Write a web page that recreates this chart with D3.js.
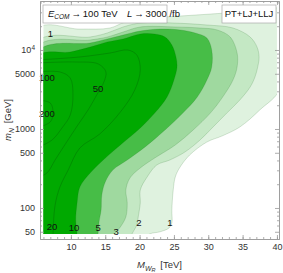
<!DOCTYPE html>
<html>
<head>
<meta charset="utf-8">
<script src="https://cdn.jsdelivr.net/npm/d3@7"></script>
<style>
    body { margin: 0; background: #fff; }
    text { font-family: "Liberation Sans", Arial, sans-serif; }
</style>
</head>
<body>
<div id="chart"></div>
<script>
    // filled contour regions, [M_WR in TeV, m_N in GeV]
    const region1 = [[5, 40], [5, 18400], [11.3, 18400], [15.7, 19000], [17.9, 22600], [21.5, 25400], [25.9, 26900],
        [30.3, 28500], [34.6, 30200], [40.5, 32100], [40.5, 3300], [37.5, 1740], [34.6, 1060], [32.0, 815],
        [29.8, 684], [27.3, 469], [25.9, 330], [25.2, 247], [24.9, 169], [24.7, 94], [24.7, 65], [24.3, 56],
        [23.0, 50], [21.5, 47], [20.5, 40]];
    const region2 = [[5, 40], [5, 12630], [12.8, 14600], [15.3, 16420], [17.6, 19560], [20.1, 21950], [24.9, 21950],
        [29.8, 20720], [33.6, 18990], [36.1, 14600], [37.1, 10900], [37.4, 8160], [37.2, 6090], [36.8, 4550],
        [36.1, 3400], [34.6, 2330], [32.7, 1590], [30.7, 1060], [28.8, 725], [26.6, 511], [24.4, 405],
        [22.5, 350], [21.1, 247], [20.1, 169], [20.1, 116], [19.8, 77], [19.6, 61], [18.9, 47], [18.6, 40]];
    const region3 = [[5, 40], [5, 10900], [12.8, 13380], [15.3, 14600], [17.6, 16890], [20.1, 19560], [25.2, 19560],
        [28.8, 18990], [31.3, 17930], [33.2, 14600], [34.2, 9160], [34.2, 6090], [33.6, 4170], [32.1, 2540],
        [30.3, 1590], [27.8, 971], [25.2, 627], [22.2, 429], [20.1, 321], [18.6, 240], [18.0, 169],
        [18.2, 116], [18.0, 77], [17.2, 57.5], [16.4, 47], [16.1, 40]];
    const region5 = [[5, 40], [5, 9430], [12.8, 12260], [15.3, 13790], [17.6, 15470], [20.1, 17400], [23.0, 18430],
        [25.9, 17930], [28.1, 16420], [29.8, 14170], [30.5, 10000], [30.5, 6090], [29.8, 4170], [28.4, 2540],
        [26.3, 1590], [23.7, 971], [20.8, 592], [18.2, 405], [16.1, 302], [15.0, 213], [14.5, 146],
        [14.4, 94], [14.1, 67], [13.95, 47], [13.8, 40]];
    const region10 = [[5, 40], [5, 8160], [9.9, 9430], [12.8, 10900], [15.3, 12630], [17.6, 13790], [20.1, 15940],
        [22.2, 15940], [23.7, 14600], [24.7, 11580], [25.3, 8160], [25.45, 6090], [25.0, 4170], [24.0, 2540],
        [22.2, 1590], [20.1, 1030], [17.2, 627], [14.7, 405], [12.8, 277], [11.3, 184], [10.9, 116],
        [10.7, 70], [10.9, 47], [10.9, 40]];

    // contour lines inside the darkest region
    const line20 = [[5, 7470], [11.3, 8160], [15.7, 9160], [18.3, 9990], [19.6, 8640], [20.1, 5580], [19.3, 3120],
        [17.2, 1640], [14.2, 864], [11.3, 575], [9.6, 302], [8.4, 184], [7.7, 109], [7.4, 47], [7.4, 40]];
    const line50 = [[5, 6850], [10.6, 7050], [14.0, 6650], [15.1, 5270], [14.8, 3930], [14.0, 2940], [12.5, 1740],
        [11.0, 1120], [9.1, 627], [7.7, 405], [6.5, 277], [5, 240]];
    const line100 = [[5, 5270], [8.4, 5270], [9.9, 4420], [10.3, 2690], [9.9, 1500], [8.7, 1030], [7.25, 725], [5, 575]];
    const line200 = [[5, 2330], [7.0, 2130], [7.4, 1590], [7.0, 1230], [5, 1030]];

    const regions = [region1, region2, region3, region5, region10];
    const fills = ["#dff2df", "#c4e8c4", "#9fd99f", "#47bd47", "#00a900"];
    const innerLines = [line20, line50, line100, line200];

    const contourLabels = ["1", "100", "200", "50", "20", "10", "5", "3", "2", "1"];
    const labelAt = [[7.0, 16400], [6.5, 4550], [6.5, 1590], [13.95, 3210], [7.25, 59], [10.45, 56], [13.95, 56],
        [16.6, 51], [19.9, 65], [24.4, 66]];

    const xTicks = [10, 15, 20, 25, 30, 35, 40];
    const yTicks = [50, 100, 500, 1000, 5000, 10000];

    const width = 283, height = 273;

    const x = d3.scaleLinear().domain([5.5, 40.3]).range([40, 279]);
    const y = d3.scaleLog().domain([40.5, 41700]).range([239, 1]);

    const svg = d3.select("#chart")
        .append("svg")
        .attr("width", width)
        .attr("height", height);

    svg.append("clipPath")
        .attr("id", "clip")
        .append("rect")
        .attr("x", x(6))
        .attr("y", y(40000))
        .attr("width", x(40) - x(6))
        .attr("height", y(47) - y(40000));

    const lineGen = d3.line()
        .x(d => x(d[0]))
        .y(d => y(d[1]));

    const plot = svg.append("g").attr("clip-path", "url(#clip)");

    plot.selectAll("path.region")
        .data(regions)
        .enter()
        .append("path")
        .attr("class", "region")
        .attr("d", d => lineGen.curve(d3.curveCatmullRomClosed.alpha(0.5))(d))
        .attr("fill", (d, i) => fills[i])
        .attr("stroke", "rgba(0,90,0,0.3)")
        .attr("stroke-width", 0.5);

    plot.selectAll("path.inner")
        .data(innerLines)
        .enter()
        .append("path")
        .attr("class", "inner")
        .attr("d", d => lineGen.curve(d3.curveCatmullRom.alpha(0.5))(d))
        .attr("fill", "none")
        .attr("stroke", "rgba(0,50,0,0.35)")
        .attr("stroke-width", 0.6);

    svg.selectAll("text.clabel")
        .data(contourLabels)
        .enter()
        .append("text")
        .attr("class", "clabel")
        .attr("x", (d, i) => x(labelAt[i][0]))
        .attr("y", (d, i) => y(labelAt[i][1]))
        .attr("text-anchor", "middle")
        .attr("dominant-baseline", "central")
        .attr("font-size", 9.5)
        .attr("fill", "#111")
        .text(d => d);

    // frame with inward ticks on every side
    const minorX = d3.range(6, 41);
    const minorY = y.ticks().filter(v => yTicks.indexOf(v) < 0);

    function styleAxis(g) {
        g.selectAll("path.domain").attr("stroke", "#999").attr("stroke-width", 0.8);
        g.selectAll(".tick line").attr("stroke", "#999").attr("stroke-width", 0.8);
        g.selectAll("text").attr("fill", "#333").attr("font-size", 9)
            .style("font-family", "'Liberation Sans', Arial, sans-serif");
    }

    const axBottom = svg.append("g").attr("transform", `translate(0,${y.range()[0]})`);
    axBottom.append("g").call(d3.axisBottom(x).tickValues(xTicks).tickSize(-4).tickSizeOuter(0).tickPadding(5)).call(styleAxis);
    axBottom.append("g").call(d3.axisBottom(x).tickValues(minorX).tickSize(-2).tickSizeOuter(0).tickFormat("")).call(styleAxis);

    const axTop = svg.append("g").attr("transform", `translate(0,${y.range()[1]})`);
    axTop.append("g").call(d3.axisTop(x).tickValues(xTicks).tickSize(-4).tickSizeOuter(0).tickFormat("")).call(styleAxis);
    axTop.append("g").call(d3.axisTop(x).tickValues(minorX).tickSize(-2).tickSizeOuter(0).tickFormat("")).call(styleAxis);

    const axLeft = svg.append("g").attr("transform", `translate(${x.range()[0]},0)`);
    axLeft.append("g")
        .call(d3.axisLeft(y).tickValues(yTicks).tickSize(-4).tickSizeOuter(0).tickPadding(5)
            .tickFormat(d => d === 10000 ? "10" : String(d)))
        .call(styleAxis);
    axLeft.append("g").call(d3.axisLeft(y).tickValues(minorY).tickSize(-2).tickSizeOuter(0).tickFormat("")).call(styleAxis);
    axLeft.selectAll(".tick text")
        .filter(d => d === 10000)
        .append("tspan")
        .attr("dy", "-0.45em")
        .attr("font-size", 6.5)
        .text("4");

    const axRight = svg.append("g").attr("transform", `translate(${x.range()[1]},0)`);
    axRight.append("g").call(d3.axisRight(y).tickValues(yTicks).tickSize(-4).tickSizeOuter(0).tickFormat("")).call(styleAxis);
    axRight.append("g").call(d3.axisRight(y).tickValues(minorY).tickSize(-2).tickSizeOuter(0).tickFormat("")).call(styleAxis);

    // axis titles
    const xTitle = svg.append("text")
        .attr("x", (x.range()[0] + x.range()[1]) / 2)
        .attr("y", 268)
        .attr("text-anchor", "middle")
        .attr("font-size", 9.5)
        .attr("fill", "#333");
    xTitle.append("tspan").attr("font-style", "italic").text("M");
    xTitle.append("tspan").attr("font-style", "italic").attr("font-size", 7).attr("dy", 2.5).text("W");
    xTitle.append("tspan").attr("font-style", "italic").attr("font-size", 5.5).attr("dy", 1.5).text("R");
    xTitle.append("tspan").attr("dy", -4).text("\u2002[TeV]");

    const yTitle = svg.append("text")
        .attr("transform", `translate(11,${(y.range()[0] + y.range()[1]) / 2}) rotate(-90)`)
        .attr("text-anchor", "middle")
        .attr("font-size", 9.5)
        .attr("fill", "#333");
    yTitle.append("tspan").attr("font-style", "italic").text("m");
    yTitle.append("tspan").attr("font-style", "italic").attr("font-size", 7).attr("dy", 2.5).text("N");
    yTitle.append("tspan").attr("dy", -2.5).text("\u2002[GeV]");

    // legend boxes
    const legendL = svg.append("g");
    legendL.append("rect")
        .attr("x", 43).attr("y", 5).attr("width", 124).attr("height", 18)
        .attr("fill", "#fff").attr("stroke", "#aaa").attr("stroke-width", 0.7);
    const lt = legendL.append("text").attr("x", 48).attr("y", 17).attr("font-size", 9.5).attr("fill", "#111");
    lt.append("tspan").attr("font-style", "italic").text("E");
    lt.append("tspan").attr("font-style", "italic").attr("font-size", 6.5).attr("dy", 2).text("COM");
    lt.append("tspan").attr("dy", -2).text("\u2009\u2192\u2009100 TeV\u2003");
    lt.append("tspan").attr("font-style", "italic").text("L");
    lt.append("tspan").text("\u2009\u2192\u20093000 /fb");

    const legendR = svg.append("g");
    legendR.append("rect")
        .attr("x", 222).attr("y", 5).attr("width", 54).attr("height", 18)
        .attr("fill", "#fff").attr("stroke", "#aaa").attr("stroke-width", 0.7);
    legendR.append("text")
        .attr("x", 249).attr("y", 17)
        .attr("text-anchor", "middle")
        .attr("font-size", 9.5)
        .attr("fill", "#111")
        .text("PT+LJ+LLJ");
</script>
</body>
</html>
